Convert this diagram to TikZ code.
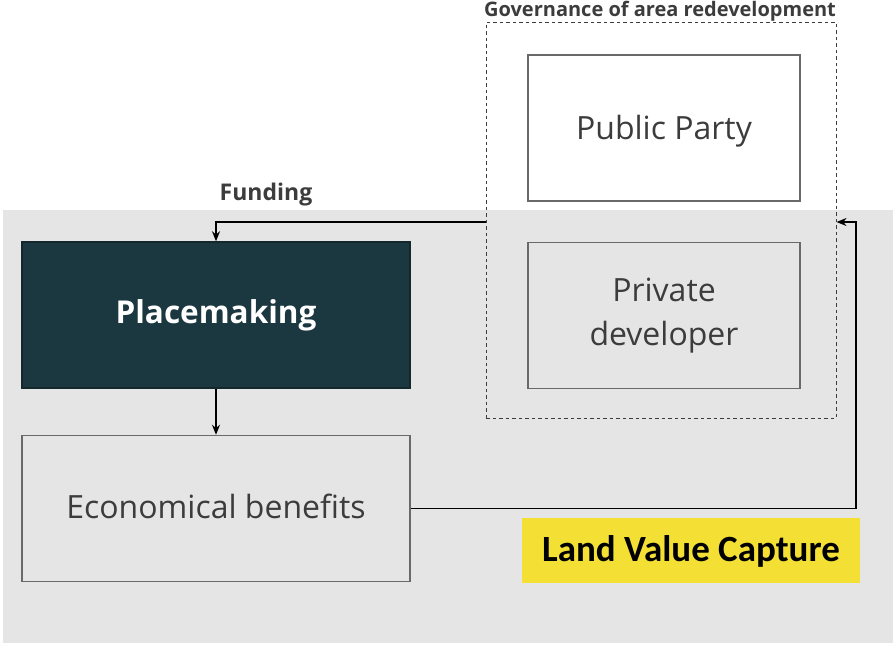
\documentclass[tikz,border=0pt]{standalone}
\usepackage{fontspec}
\setmainfont{Open Sans}
\newfontfamily\lvcfont{Carlito}
\usetikzlibrary{arrows.meta}

\definecolor{bggrey}{RGB}{229,229,229}
\definecolor{boxgrey}{RGB}{105,105,105}
\definecolor{darkteal}{RGB}{27,55,64}
\definecolor{lvcyellow}{RGB}{244,224,52}
\definecolor{txtgrey}{RGB}{60,60,60}

\tikzset{every picture/.style={line width=1pt}}
\tikzset{
  actorbox/.style={draw=boxgrey, line width=1.5pt, minimum width=272pt, minimum height=146pt, inner sep=0pt, align=center, text=txtgrey, font=\fontsize{32}{44}\selectfont},
  stagebox/.style={draw=boxgrey, line width=1.5pt, minimum width=388pt, minimum height=146pt, inner sep=0pt, align=center, text=txtgrey, font=\fontsize{32}{44}\selectfont},
  flowline/.style={line width=1.5pt, -{Stealth[length=10pt,width=8pt]}},
  headlabel/.style={text=txtgrey, font=\fontsize{20}{24}\selectfont\bfseries}
}

\begin{document}
\begin{tikzpicture}[x=1pt,y=1pt,yscale=-1,xscale=1]
\useasboundingbox (0,0) rectangle (896,646);
\fill [white] (0,0) rectangle (896,646);

%Grey background
\fill [bggrey] (3,210) rectangle (893,643);

%Governance frame
\node (gov) [draw=txtgrey, line width=1pt, dash pattern={on 3.5pt off 3pt}, minimum width=350pt, minimum height=396pt, inner sep=0pt] at (661,220) {};

%Actors
\node (pub) [actorbox, fill=white, text depth=2pt] at (664,128) {Public Party};
\node (priv) [actorbox] at (664,315.5) {Private\\developer};

%Stages
\node (place) [stagebox, fill=darkteal, draw=darkteal!70!black, text=white, font=\fontsize{31.5}{40}\selectfont\bfseries] at (216,315) {Placemaking};
\node (econ) [stagebox, text depth=5pt] at (216,508.5) {Economical benefits};

%Land value capture tag
\node (lvc) [fill=lvcyellow, minimum width=338pt, minimum height=65pt, inner sep=0pt, text depth=4pt, font=\lvcfont\fontsize{37}{42}\selectfont\bfseries] at (691,550.5) {Land Value Capture};

% Text Node
\node (fundlbl) [headlabel, font=\fontsize{23}{26}\selectfont\bfseries] at (266,195) {Funding};
% Text Node
\node (govlbl) [headlabel] at (660,11) {Governance of area redevelopment};

%Connectors
\coordinate (fund) at (486,222);
\coordinate (ret) at (856,222);
\draw [flowline] (fund) -| (place.north);
\draw [flowline] (place.south) -- (econ.north);
\draw [flowline] (econ.east) -| (ret) -- (gov.east |- ret);

\end{tikzpicture}
\end{document}
